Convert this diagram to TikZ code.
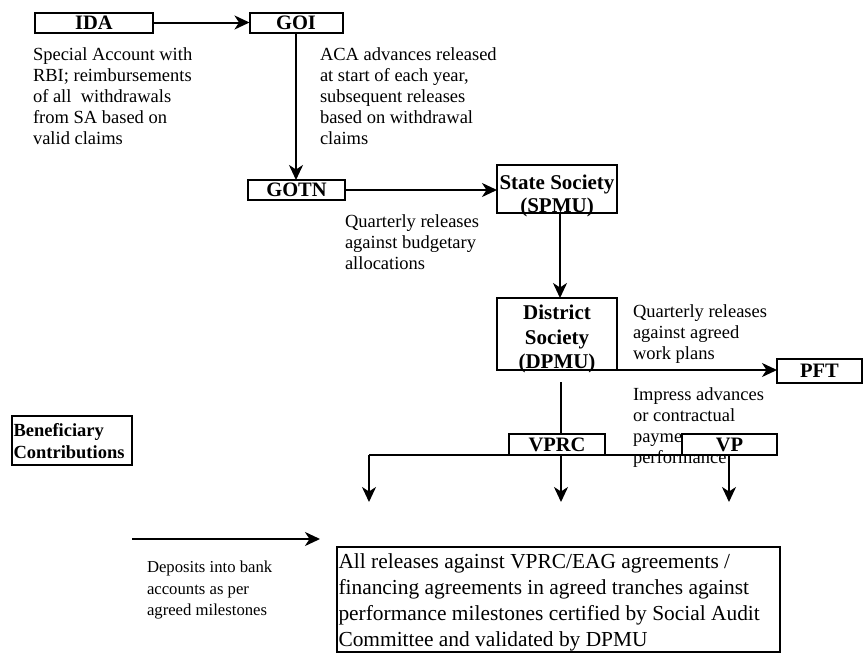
\documentclass[tikz,border=0pt]{standalone}
\usepackage{fontspec}
\setmainfont{Liberation Serif}
\usetikzlibrary{arrows.meta,calc}
\begin{document}
\begin{tikzpicture}[x=1pt,y=-1pt,
  every node/.style={inner sep=0pt, outer sep=0pt},
  box/.style={draw, line width=2pt, fill=white},
  lbl/.style={font=\fontsize{20.5}{23}\selectfont\bfseries},
  blbl/.style={font=\fontsize{21}{24.5}\selectfont\bfseries, align=center, anchor=north},
  note/.style={font=\fontsize{18.5}{21}\selectfont, align=left, anchor=north west},
  arr/.style={line width=2pt, -{Stealth[length=15pt,width=14pt,inset=4.5pt]}},
  ln/.style={line width=2pt}]
\useasboundingbox (0,0) rectangle (865,656);

% boxes
\node[box, lbl, minimum width=118pt, minimum height=20pt] (ida) at (94,22.5) {IDA};
\node[box, lbl, minimum width=93pt, minimum height=20pt] (goi) at (296,22.5) {GOI};
\node[box, lbl, minimum width=97pt, minimum height=20pt] (gotn) at (296.5,190) {GOTN};
\node[box, minimum width=120pt, minimum height=48pt] (spmu) at (557,189) {};
\node[blbl, font=\fontsize{21}{23}\selectfont\bfseries] (spmut) at (557,175) {State Society\\(SPMU)};
\node[box, minimum width=120pt, minimum height=72pt] (dpmu) at (557,334) {};
\node[blbl] (dpmut) at (557,305) {District\\Society\\(DPMU)};
\node[box, lbl, minimum width=85pt, minimum height=24pt] (pft) at (819.5,371) {PFT};

% notes
\node[note] (n1) at (33,48) {Special Account with\\RBI; reimbursements\\of all~ withdrawals\\from SA based on\\valid claims};
\node[note] (n2) at (320,48) {ACA advances released\\at start of each year,\\subsequent releases\\based on withdrawal\\claims};
\node[note] (n3) at (345,215) {Quarterly releases\\against budgetary\\allocations};
\node[note] (n4) at (633,305) {Quarterly releases\\against agreed\\work plans};
\node[note] (n5) at (633,388) {Impress advances\\or contractual\\payme\\performance};

% beneficiary
\node[box, minimum width=120pt, minimum height=49pt] (ben) at (72,440.5) {};
\node[anchor=north west, align=left, font=\fontsize{18.5}{22}\selectfont\bfseries] (bent) at (13.5,423) {Beneficiary\\Contributions};

% VPRC / VP
\node[box, lbl, minimum width=96pt, minimum height=21pt] (vprc) at (557,444.5) {VPRC};
\node[box, lbl, minimum width=95pt, minimum height=21pt] (vp) at (729.5,444.5) {VP};

% bottom box
\node[box, anchor=north west, minimum width=443pt, minimum height=105pt] (fin) at (337,547) {};
\node[anchor=north west, align=left, font=\fontsize{21.4}{26}\selectfont] (fint) at (338.5,554) {All releases against VPRC/EAG agreements /\\financing agreements in agreed tranches against\\performance milestones certified by Social Audit\\Committee and validated by DPMU};

\node[anchor=north west, align=left, font=\fontsize{16.7}{21.5}\selectfont] (dep) at (147,561) {Deposits into bank\\accounts as per\\agreed milestones};

% coordinates
\coordinate (d0) at (561,382);
\coordinate (h1) at (369,455);
\coordinate (h2) at (561,455);
\coordinate (h3) at (729,455);
\coordinate (t1) at (369,502);
\coordinate (t2) at (561,502);
\coordinate (t3) at (729,502);
\coordinate (dp0) at (132,539);
\coordinate (dp1) at (320,539);

% connectors
\draw[arr] (ida.east) -- (goi.west);
\draw[arr] (goi.south) -- (goi.south |- gotn.north);
\draw[arr] (gotn.east) -- (gotn.east -| spmu.west);
\draw[arr] ([xshift=3pt]spmu.south) -- ([xshift=3pt]dpmu.north);
\draw[arr] (dpmu.south east) -- (dpmu.south east -| pft.west);
\draw[ln] (d0) -- (d0 |- vprc.north);
\draw[ln] (h1) -- (h3);
\draw[arr] (h1) -- (t1);
\draw[arr] (h2) -- (t2);
\draw[arr] (h3) -- (t3);
\draw[arr] (dp0) -- (dp1);
\end{tikzpicture}
\end{document}
